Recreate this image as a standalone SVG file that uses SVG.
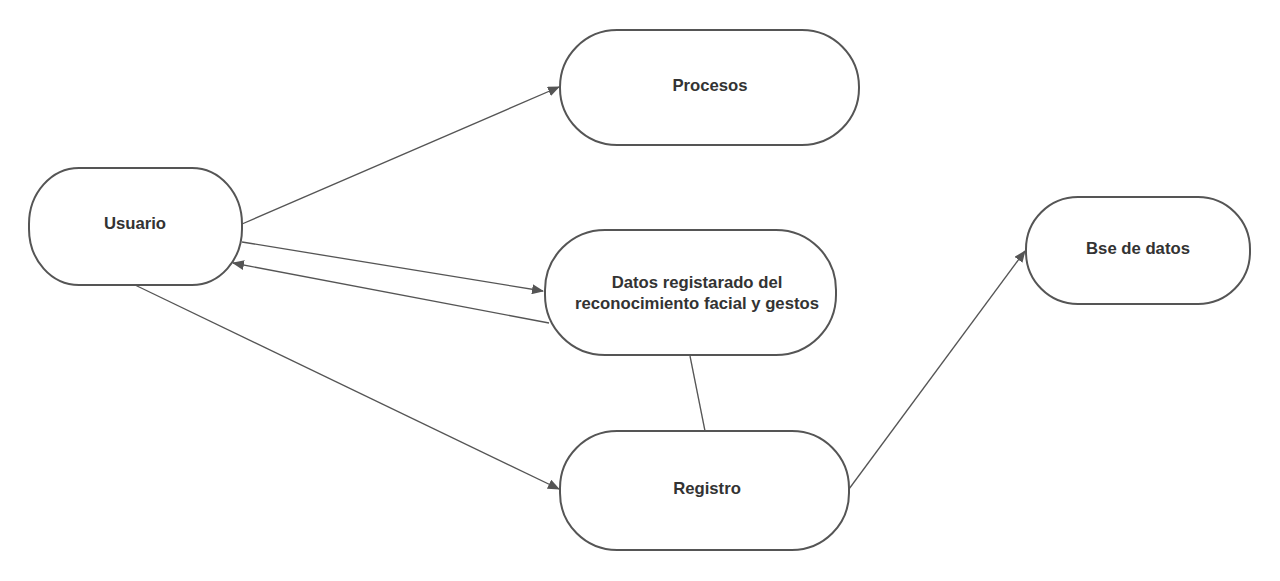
<svg xmlns="http://www.w3.org/2000/svg" width="1280" height="581" viewBox="0 0 1280 581">
<defs>
<style>
.node{fill:#fff;stroke:#555;stroke-width:2}
.lbl{font-family:"Liberation Sans",Arial,sans-serif;font-weight:bold;font-size:16.7px;fill:#333;text-anchor:middle;dominant-baseline:middle}
.edge{fill:none;stroke:#555;stroke-width:1.3}
</style>
<marker id="arr" viewBox="0 0 12 10" refX="11" refY="5" markerWidth="12" markerHeight="10" markerUnits="userSpaceOnUse" orient="auto">
<path d="M0,0 L12,5 L0,10 Z" fill="#555"/>
</marker>
</defs>
<rect width="1280" height="581" fill="#fff"/>
<g id="connectors">
<line class="edge" x1="242" y1="224" x2="559" y2="87" marker-end="url(#arr)"/>
<line class="edge" x1="242" y1="242" x2="543" y2="291" marker-end="url(#arr)"/>
<line class="edge" x1="549" y1="323" x2="233" y2="263" marker-end="url(#arr)"/>
<line class="edge" x1="135" y1="285" x2="559" y2="489" marker-end="url(#arr)"/>
<line class="edge" x1="690" y1="356" x2="705" y2="431"/>
<line class="edge" x1="849" y1="489" x2="1025" y2="251" marker-end="url(#arr)"/>
</g>
<g id="usuario">
<rect class="node" x="29" y="168" width="213" height="117" rx="50" ry="56"/>
<text class="lbl" x="135" y="225">Usuario</text>
</g>
<g id="procesos">
<rect class="node" x="560" y="30" width="299" height="115" rx="57" ry="57"/>
<text class="lbl" x="710" y="87">Procesos</text>
</g>
<g id="datos">
<rect class="node" x="545" y="230" width="291" height="125" rx="60" ry="60"/>
<text class="lbl" x="697" y="284">Datos registarado del</text>
<text class="lbl" x="697" y="305">reconocimiento facial y gestos</text>
</g>
<g id="registro">
<rect class="node" x="560" y="431" width="289" height="119" rx="57" ry="57"/>
<text class="lbl" x="707" y="490">Registro</text>
</g>
<g id="bse">
<rect class="node" x="1026" y="197" width="224" height="107" rx="52" ry="52"/>
<text class="lbl" x="1138" y="250">Bse de datos</text>
</g>
</svg>
